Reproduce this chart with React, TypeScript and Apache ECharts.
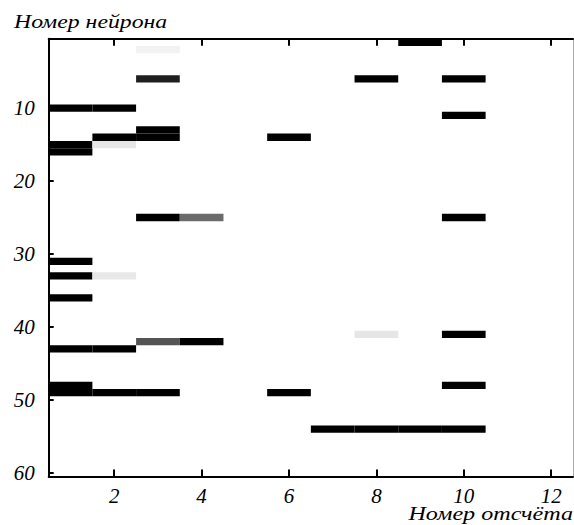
import React, { useEffect, useRef } from "react";
import * as echarts from "echarts";

const xTicks = [2, 4, 6, 8, 10, 12];
const yTicks = [10, 20, 30, 40, 50, 60];
const xName = "Номер отсчёта";
const yName = "Номер нейрона";
// [sample (column), neuron (row), darkness 0..1]
const cells: [number, number, number][] = [
  [9, 1, 1],
  [3, 2, 0.05],
  [3, 6, 0.88], [8, 6, 1], [10, 6, 1],
  [1, 10, 1], [2, 10, 1],
  [10, 11, 1],
  [3, 13, 1],
  [2, 14, 1], [3, 14, 1], [6, 14, 1],
  [1, 15, 1], [2, 15, 0.1],
  [1, 16, 1],
  [3, 25, 1], [4, 25, 0.58], [10, 25, 1],
  [1, 31, 1],
  [1, 33, 1], [2, 33, 0.09],
  [1, 36, 1],
  [8, 41, 0.1], [10, 41, 1],
  [3, 42, 0.67], [4, 42, 1],
  [1, 43, 1], [2, 43, 1],
  [1, 48, 1], [10, 48, 1],
  [1, 49, 1], [2, 49, 1], [3, 49, 1], [6, 49, 1],
  [7, 54, 1], [8, 54, 1], [9, 54, 1], [10, 54, 1],
];

const font = "'Liberation Serif', 'Times New Roman', serif";

function shade(d: number): string {
  const v = Math.round(255 * (1 - d));
  return `rgb(${v},${v},${v})`;
}

export default function App() {
  const ref = useRef<HTMLDivElement>(null);
  useEffect(() => {
    if (!ref.current) return;
    const chart = echarts.init(ref.current, undefined, { renderer: "svg" });
    const labelStyle = {
      fontFamily: font,
      fontStyle: "italic",
      fontSize: 21,
      color: "#000",
    };
    const nameStyle = {
      fontFamily: font,
      fontStyle: "italic",
      fontSize: 19,
      fill: "#000",
    };
    const lineStyle = { color: "#000", width: 2 };
    chart.setOption({
      animation: false,
      backgroundColor: "#fff",
      textStyle: { fontFamily: font },
      grid: { left: 48.7, top: 38.7, right: 1, bottom: 48.4, containLabel: false },
      xAxis: [
        {
          type: "value",
          min: 0.5,
          max: 12.5,
          position: "bottom",
          axisLine: { show: true, lineStyle },
          axisTick: { show: true, inside: true, length: 7, lineStyle, customValues: xTicks },
          axisLabel: { show: true, margin: 9, ...labelStyle, customValues: xTicks },
          splitLine: { show: false },
        },
        {
          type: "value",
          min: 0.5,
          max: 12.5,
          position: "top",
          axisLine: { show: true, lineStyle },
          axisTick: { show: true, inside: true, length: 7, lineStyle, customValues: xTicks },
          axisLabel: { show: false, customValues: xTicks },
          splitLine: { show: false },
        },
      ],
      yAxis: [
        {
          type: "value",
          min: 0.5,
          max: 60.5,
          inverse: true,
          position: "left",
          axisLine: { show: true, lineStyle },
          axisTick: { show: true, inside: true, length: 5, lineStyle, customValues: yTicks },
          axisLabel: { show: true, margin: 14, ...labelStyle, customValues: yTicks },
          splitLine: { show: false },
        },
        {
          type: "value",
          min: 0.5,
          max: 60.5,
          inverse: true,
          position: "right",
          axisLine: { show: true, lineStyle: { color: "#aaa", width: 1 } },
          axisTick: { show: false },
          axisLabel: { show: false },
          splitLine: { show: false },
        },
      ],
      graphic: [
        {
          type: "text",
          x: 14,
          y: 12,
          scaleX: 1.25,
          style: { text: yName, ...nameStyle, align: "left", verticalAlign: "top" },
        },
        {
          type: "text",
          x: 573,
          y: 504,
          scaleX: 1.27,
          style: { text: xName, ...nameStyle, align: "right", verticalAlign: "top" },
        },
      ],
      series: [
        {
          type: "custom",
          xAxisIndex: 0,
          yAxisIndex: 0,
          data: cells,
          encode: { x: 0, y: 1 },
          renderItem: (params: any, api: any) => {
            const x = api.value(0);
            const y = api.value(1);
            const d = api.value(2);
            const p0 = api.coord([x - 0.5, y - 0.5]);
            const p1 = api.coord([x + 0.5, y + 0.5]);
            return {
              type: "rect",
              shape: {
                x: Math.min(p0[0], p1[0]),
                y: Math.min(p0[1], p1[1]),
                width: Math.abs(p1[0] - p0[0]),
                height: Math.abs(p1[1] - p0[1]),
              },
              style: { fill: shade(d) },
            };
          },
        },
      ],
    });
    return () => chart.dispose();
  }, []);
  return (
    <div
      ref={ref}
      style={{ position: "fixed", left: 0, top: 0, width: 574, height: 525 }}
    />
  );
}
